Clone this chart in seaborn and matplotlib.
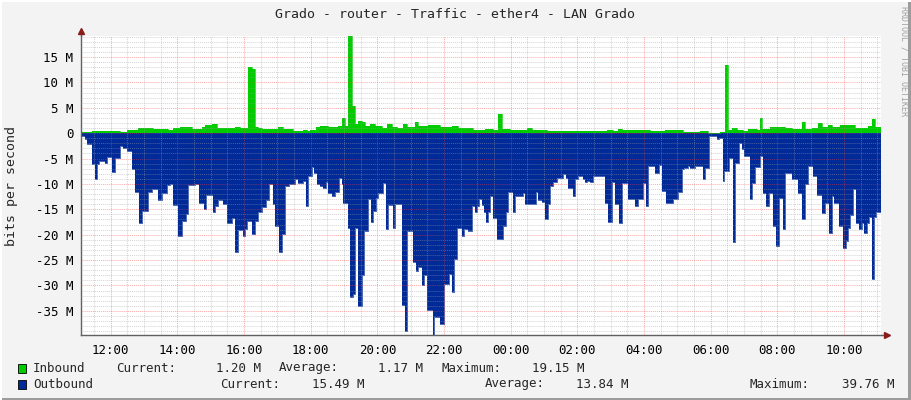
import numpy as np
import seaborn as sns
import matplotlib.pyplot as plt
from matplotlib.ticker import MultipleLocator, FixedLocator, FuncFormatter
from matplotlib.patches import Rectangle

# rrdtool-style traffic graph, values in Mbit/s, time in minutes from 11:06:30

start_hour = 11 + 6.5 / 60

# outbound (drawn downwards)
out_min = [0, 7, 11, 19, 25, 29, 33, 43, 46, 55,
           61, 71, 76, 82, 91, 97, 104, 110, 121, 127,
           139, 145, 155, 161, 166, 175, 181, 189, 193, 205,
           212, 221, 225, 237, 241, 247, 255, 262, 271, 277,
           283, 292, 295, 299, 307, 313, 319, 325, 333, 339,
           345, 349, 357, 362, 368, 375, 385, 391, 400, 405,
           409, 415, 419, 425, 430, 436, 441, 445, 451, 458,
           464, 469, 472, 481, 484, 489, 493, 499, 505, 510,
           517, 522, 526, 531, 535, 543, 549, 553, 561, 565,
           577, 583, 587, 598, 603, 606, 614, 617, 622, 633,
           636, 647, 653, 662, 667, 671, 677, 686, 690, 697,
           703, 709, 713, 717, 721, 725, 729, 733, 737, 742,
           748, 760, 765, 769, 778, 781, 796, 799, 819, 823,
           829, 835, 841, 845, 850, 856, 862, 867, 873, 877,
           885, 889, 895, 903, 907, 911, 916, 921, 943, 949,
           955, 961, 969, 973, 985, 997, 1003, 1011, 1017, 1021,
           1033, 1041, 1045, 1053, 1066, 1075, 1081, 1085, 1093, 1097,
           1105, 1119, 1123, 1131, 1144, 1149, 1155, 1157, 1167, 1173,
           1177, 1185, 1189, 1193, 1204, 1208, 1213, 1222, 1227, 1233,
           1239, 1245, 1251, 1257, 1263, 1267, 1279, 1291, 1297, 1303,
           1309, 1318, 1324, 1333, 1339, 1347, 1351, 1355, 1365, 1371,
           1377, 1381, 1385, 1390, 1395, 1401, 1405, 1409, 1414, 1419,
           1423, 1427, 1431, 1440]
out_val = [0.6, 1.2, 2.2, 6.1, 9.0, 6.0, 5.4, 5.8, 4.6, 7.6,
           4.8, 2.5, 2.9, 3.5, 7.1, 11.6, 17.6, 15.3, 11.6, 11.0,
           13.1, 11.7, 10.3, 10.0, 14.1, 20.3, 17.3, 16.0, 10.3, 10.0,
           13.7, 15.0, 12.2, 15.5, 14.3, 13.1, 14.0, 17.6, 16.8, 23.5,
           19.0, 20.2, 18.8, 17.3, 19.9, 17.3, 15.5, 14.6, 13.1, 10.0,
           14.0, 18.2, 23.5, 19.9, 10.4, 10.0, 9.1, 9.9, 9.4, 14.3,
           8.4, 6.6, 7.8, 10.0, 10.4, 10.7, 9.7, 11.7, 12.4, 11.6,
           8.8, 10.0, 13.7, 18.6, 32.3, 31.6, 18.6, 34.0, 27.9, 19.2,
           12.9, 17.5, 15.3, 12.7, 11.8, 9.9, 18.9, 14.2, 18.7, 14.0,
           33.8, 39.0, 19.2, 25.4, 27.1, 26.4, 30.0, 27.9, 34.9, 39.76,
           36.2, 37.5, 29.7, 27.7, 31.3, 24.8, 18.6, 20.2, 18.8, 19.2,
           14.3, 15.5, 14.3, 12.9, 14.2, 15.6, 17.5, 15.6, 12.4, 16.8,
           20.8, 18.2, 15.5, 11.6, 15.5, 12.4, 11.8, 13.9, 11.6, 13.1,
           13.5, 16.9, 14.0, 10.4, 9.7, 8.8, 8.8, 8.1, 8.8, 10.7,
           12.4, 9.1, 8.4, 9.1, 9.7, 9.4, 9.7, 8.4, 13.7, 17.5,
           9.7, 14.0, 17.7, 9.9, 13.0, 14.4, 13.0, 9.9, 14.4, 6.5,
           7.8, 6.3, 11.4, 13.7, 13.0, 11.6, 7.1, 6.8, 6.5, 6.8,
           6.5, 9.1, 6.8, 0.6, 1.2, 0.9, 9.4, 7.5, 4.8, 21.5,
           5.8, 1.9, 3.2, 4.4, 13.0, 9.9, 6.6, 4.5, 11.7, 14.4,
           11.7, 18.2, 22.2, 12.7, 18.8, 7.8, 9.0, 11.7, 16.9, 10.0,
           6.5, 8.4, 12.2, 15.8, 13.7, 19.7, 12.4, 13.7, 18.2, 22.6,
           21.2, 18.6, 16.1, 10.9, 17.7, 18.8, 17.6, 19.7, 17.7, 16.6,
           28.8, 16.6, 15.5, 15.5]

# inbound (drawn upwards)
in_min = [0, 19, 70, 82, 103, 130, 157, 166, 178, 199,
          217, 223, 235, 245, 277, 286, 301, 307, 313, 319,
          325, 355, 364, 382, 400, 406, 412, 423, 430, 445,
          463, 469, 475, 481, 487, 493, 499, 505, 511, 520,
          529, 541, 550, 559, 568, 574, 579, 587, 601, 607,
          625, 646, 667, 679, 697, 706, 727, 742, 751, 757,
          772, 802, 811, 838, 862, 946, 958, 967, 973, 1024,
          1042, 1051, 1084, 1114, 1129, 1150, 1159, 1165, 1171, 1180,
          1192, 1201, 1216, 1222, 1225, 1240, 1267, 1279, 1297, 1303,
          1315, 1327, 1333, 1345, 1351, 1366, 1393, 1417, 1423, 1429,
          1440]
in_val = [0.15, 0.5, 0.3, 0.6, 1.0, 0.9, 0.7, 1.1, 1.2, 0.85,
          1.25, 1.7, 1.8, 1.0, 1.2, 1.0, 13.0, 12.7, 1.2, 1.0,
          0.85, 1.2, 0.85, 0.5, 0.7, 0.4, 0.6, 1.2, 1.5, 1.2,
          1.4, 3.0, 1.4, 19.15, 5.4, 1.9, 2.35, 2.2, 1.4, 1.9,
          1.4, 1.0, 1.9, 1.2, 1.0, 1.0, 1.8, 1.2, 2.2, 1.5,
          1.6, 1.2, 1.4, 1.0, 1.1, 0.7, 0.85, 0.7, 3.7, 0.85,
          0.7, 1.1, 0.6, 0.45, 0.5, 0.7, 0.5, 0.8, 0.6, 0.4,
          0.5, 0.6, 0.25, 0.45, 0.05, 0.2, 13.5, 0.7, 1.0, 0.7,
          0.5, 0.85, 0.6, 3.0, 0.85, 1.2, 1.0, 0.85, 2.2, 0.85,
          1.0, 2.0, 1.2, 1.6, 1.2, 1.6, 1.0, 1.5, 2.8, 1.2,
          1.2]

tick_hours = [12, 14, 16, 18, 20, 22, 24, 26, 28, 30, 32, 34]
tick_labels = ['12:00', '14:00', '16:00', '18:00', '20:00', '22:00',
               '00:00', '02:00', '04:00', '06:00', '08:00', '10:00']

title = 'Grado - router - Traffic - ether4 - LAN Grado'
legend_rows = [
    ('Inbound', '1.20 M', '1.17 M', '19.15 M'),
    ('Outbound', '15.49 M', '13.84 M', '39.76 M'),
]

green = '#00cc00'
blue = '#002a97'

sns.set_style('white')
plt.rcParams['font.family'] = ['DejaVu Sans Mono', 'DejaVu Sans']

fig = plt.figure(figsize=(9.11, 4.0), dpi=100, facecolor='#f3f3f3')
ax = fig.add_axes([81 / 911, 65 / 400, 800 / 911, 299 / 400])
ax.set_facecolor('white')

out_x = start_hour + np.array(out_min) / 60
in_x = start_hour + np.array(in_min) / 60
out_y = -np.array(out_val)
in_y = np.array(in_val)

ax.fill_between(out_x, 0, out_y, step='post', color=blue, lw=0)
ax.fill_between(in_x, 0, in_y, step='post', color=green, lw=0)
sns.lineplot(x=out_x, y=out_y, drawstyle='steps-post', color=blue, lw=0.5, ax=ax)
sns.lineplot(x=in_x, y=in_y, drawstyle='steps-post', color=green, lw=0.5, ax=ax)

ax.set_xlim(start_hour, start_hour + 24)
ax.set_ylim(-39.76, 19.15)

ax.xaxis.set_major_locator(FixedLocator(tick_hours))
ax.xaxis.set_minor_locator(MultipleLocator(0.5))
ax.set_xticklabels(tick_labels)
ax.yaxis.set_major_locator(MultipleLocator(5))
ax.yaxis.set_minor_locator(MultipleLocator(1))
ax.yaxis.set_major_formatter(FuncFormatter(lambda v, p: '0' if abs(v) < 1e-9 else f'{int(round(v))} M'))

# grid sits on top of the areas, semi transparent like rrdtool
ax.set_axisbelow(False)
ax.grid(which='minor', color='#a0a0a0', ls=(0, (1, 1)), lw=0.7, alpha=0.45)
ax.grid(which='major', color='#ff4040', ls=(0, (1, 1)), lw=0.7, alpha=0.45)

ax.tick_params(axis='both', which='both', direction='out', labelsize=9, colors='black')
ax.tick_params(axis='y', which='major', length=2.5, pad=3, color='#606060')
ax.tick_params(axis='y', which='minor', length=1.2, color='#909090')
ax.tick_params(axis='x', which='major', length=2.5, pad=4, color='#e06060')
ax.tick_params(axis='x', which='minor', length=1.5, color='#a0a0a0')
ax.set_xlabel('')
ax.set_ylabel('')

for side in ['top', 'right']:
    ax.spines[side].set_visible(False)
for side in ['left', 'bottom']:
    ax.spines[side].set_color('#606060')
    ax.spines[side].set_linewidth(1)

# axis arrows
ax.plot([0, 0], [1, 1.015], transform=ax.transAxes, color='#606060', lw=1, clip_on=False)
ax.plot([1, 1.006], [0, 0], transform=ax.transAxes, color='#606060', lw=1, clip_on=False)
ax.plot([0], [1.018], marker='^', ms=4, color='#8b1a1a', transform=ax.transAxes, clip_on=False)
ax.plot([1.007], [0], marker='>', ms=4, color='#8b1a1a', transform=ax.transAxes, clip_on=False)

fig.text(455 / 911, 1 - 14 / 400, title, ha='center', va='center', fontsize=9.5)
fig.text(12 / 911, 1 - 186 / 400, 'bits per second', rotation=90, ha='center', va='center', fontsize=9.5)
fig.text(904 / 911, 1 - 61 / 400, 'RRDTOOL / TOBI OETIKER', rotation=270, ha='center', va='center',
         fontsize=6, color='#a0a0a0')

# legend
row_y = [368, 384]
cols = [
    [(116, 'left'), (261, 'right'), (279, 'left'), (423, 'right'), (441, 'left'), (585, 'right')],
    [(220, 'left'), (364, 'right'), (485, 'left'), (629, 'right'), (750, 'left'), (894, 'right')],
]
for (name, cur, avg, mx), y, c, col in zip(legend_rows, row_y, [green, blue], cols):
    fy = 1 - y / 400
    fig.patches.append(Rectangle((18 / 911, fy - 4.5 / 400), 8 / 911, 9 / 400, transform=fig.transFigure,
                                 facecolor=c, edgecolor='black', lw=0.6))
    fig.text(33 / 911, fy, name, ha='left', va='center', fontsize=9)
    for (px, ha), txt in zip(col, ['Current:', cur, 'Average:', avg, 'Maximum:', mx]):
        fig.text(px / 911, fy, txt, ha=ha, va='center', fontsize=9)

# 3d frame
fig.patches.append(Rectangle((0, 0), 1, 2 / 400, transform=fig.transFigure, color='#9c9c9c', lw=0))
fig.patches.append(Rectangle((1 - 3 / 911, 0), 3 / 911, 1, transform=fig.transFigure, color='#9c9c9c', lw=0))
fig.patches.append(Rectangle((0, 1 - 2 / 400), 1, 2 / 400, transform=fig.transFigure, color='#ffffff', lw=0))
fig.patches.append(Rectangle((0, 0), 2 / 911, 1, transform=fig.transFigure, color='#ffffff', lw=0))

fig.savefig('out.png', dpi=100, facecolor=fig.get_facecolor())
